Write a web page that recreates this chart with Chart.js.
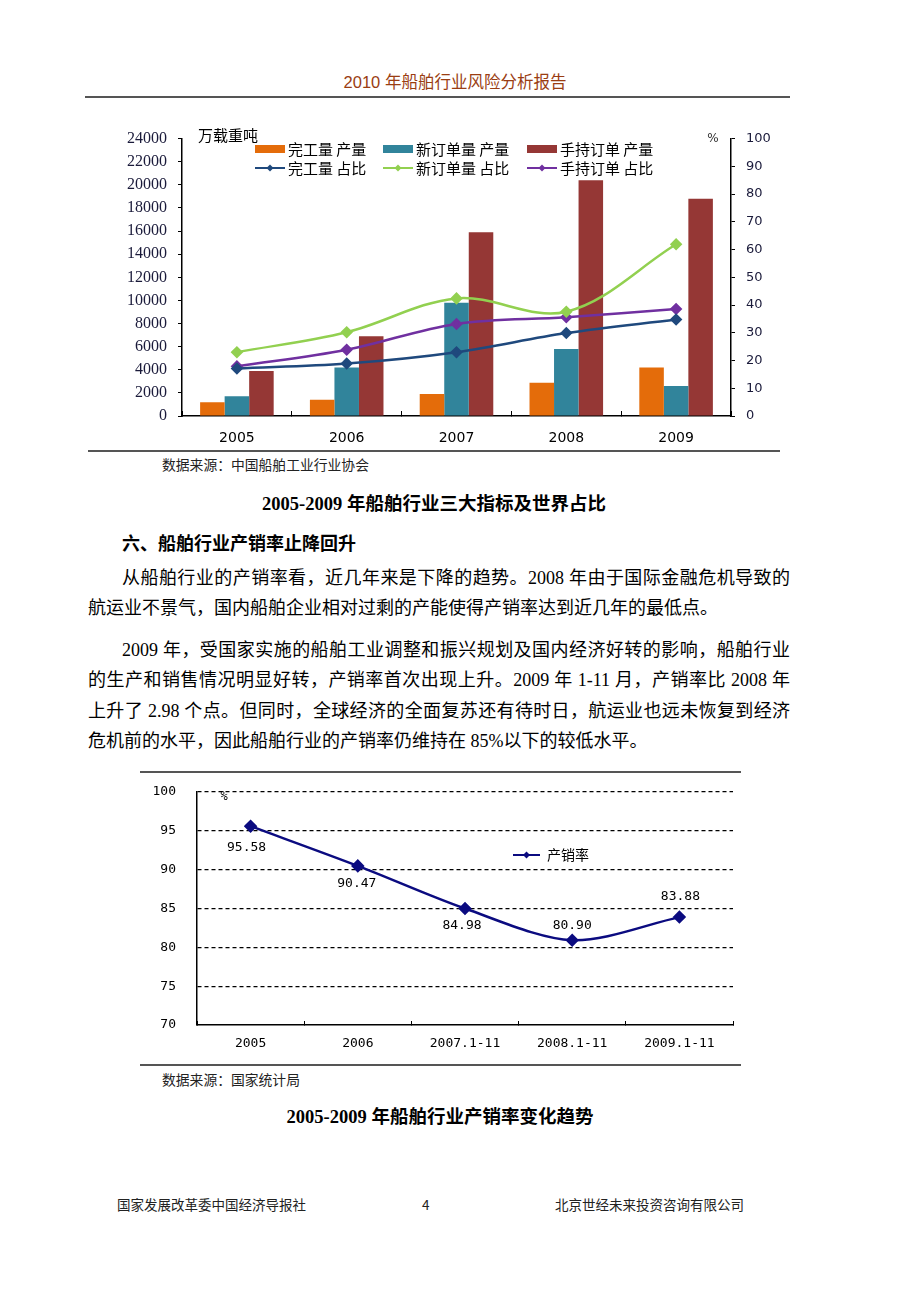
<!DOCTYPE html>
<html lang="zh-CN">
<head>
<meta charset="utf-8">
<title>2010年船舶行业风险分析报告</title>
<script src="https://cdn.jsdelivr.net/npm/chart.js@4.4.0/dist/chart.umd.min.js"></script>
<style>
  html, body { margin: 0; padding: 0; background: #fff; }
  body {
    width: 920px; height: 1302px; position: relative; overflow: hidden;
    font-family: "Liberation Serif", "Noto Sans CJK SC", serif; color: #000;
  }
  .abs { position: absolute; white-space: nowrap; }
  .rule { position: absolute; background: #555; }
  .header { left: 0; width: 910px; top: 70px; text-align: center;
            font-family: "Liberation Sans", "Noto Sans CJK SC", sans-serif;
            font-size: 16.5px; line-height: 24px; color: #9a3d12; }
  .src { font-family: "Noto Sans CJK SC", sans-serif; font-size: 13.8px; line-height: 20px; color: #222; }
  .caption { left: 0; width: 868px; text-align: center; font-weight: bold; font-size: 18.5px; line-height: 24px; }
  .line { font-size: 18px; line-height: 30px; height: 30px; }
  .just { text-align: justify; text-align-last: justify; }
  .foot { font-family: "Noto Sans CJK SC", sans-serif; font-size: 13.5px; line-height: 20px; color: #222; }
  .chartbox { position: absolute; }
</style>
</head>
<body>

<div class="abs header">2010 年船舶行业风险分析报告</div>
<div class="rule" style="left:85px; top:96px; width:705px; height:2px;"></div>

<div class="chartbox" style="left:88px; top:118px; width:712px; height:332px;">
  <canvas id="shipChart"></canvas>
</div>
<div class="rule" style="left:88px; top:450px; width:692px; height:1.5px;"></div>
<div class="abs src" style="left:162px; top:454px;">数据来源：中国船舶工业行业协会</div>
<div class="abs caption" style="top:492px;">2005-2009 年船舶行业三大指标及世界占比</div>

<div class="abs line" style="left:122px; top:529px; font-weight:bold;">六、船舶行业产销率止降回升</div>
<div class="abs line just" style="left:122px; top:563px; width:668px;">从船舶行业的产销率看，近几年来是下降的趋势。2008 年由于国际金融危机导致的</div>
<div class="abs line" style="left:88px; top:593px;">航运业不景气，国内船舶企业相对过剩的产能使得产销率达到近几年的最低点。</div>
<div class="abs line just" style="left:122px; top:635px; width:668px;">2009 年，受国家实施的船舶工业调整和振兴规划及国内经济好转的影响，船舶行业</div>
<div class="abs line just" style="left:88px; top:665px; width:702px;">的生产和销售情况明显好转，产销率首次出现上升。2009 年 1-11 月，产销率比 2008 年</div>
<div class="abs line just" style="left:88px; top:696px; width:702px;">上升了 2.98 个点。但同时，全球经济的全面复苏还有待时日，航运业也远未恢复到经济</div>
<div class="abs line" style="left:88px; top:726px;">危机前的水平，因此船舶行业的产销率仍维持在 85%以下的较低水平。</div>

<div class="rule" style="left:140px; top:771px; width:601px; height:1.5px;"></div>
<div class="chartbox" style="left:120px; top:763px; width:630px; height:302px;">
  <canvas id="ratioChart"></canvas>
</div>
<div class="rule" style="left:140px; top:1064px; width:601px; height:1.5px;"></div>
<div class="abs src" style="left:162px; top:1069px;">数据来源：国家统计局</div>
<div class="abs caption" style="top:1105px; width:880px;">2005-2009 年船舶行业产销率变化趋势</div>

<div class="abs foot" style="left:117px; top:1194px;">国家发展改革委中国经济导报社</div>
<div class="abs foot" style="left:422px; top:1194px;">4</div>
<div class="abs foot" style="left:555px; top:1194px;">北京世经未来投资咨询有限公司</div>

<script>
// 船舶行业三大指标（万载重吨）及世界占比（%）
const years = ['2005', '2006', '2007', '2008', '2009'];
const completedOutput = [1200, 1400, 1900, 2880, 4200];
const newOrderOutput = [1700, 4200, 9800, 5800, 2600];
const holdOrderOutput = [3900, 6900, 15900, 20400, 18800];
const completedShare = [17.1, 18.9, 23.0, 29.9, 34.8];
const newOrderShare = [23.0, 30.2, 42.4, 37.6, 61.9];
const holdOrderShare = [17.9, 23.9, 33.2, 35.6, 38.6];
const tonTicks = [0, 2000, 4000, 6000, 8000, 10000, 12000, 14000, 16000, 18000, 20000, 22000, 24000];
const shareTicks = [0, 10, 20, 30, 40, 50, 60, 70, 80, 90, 100];

// 产销率
const periods = ['2005', '2006', '2007.1-11', '2008.1-11', '2009.1-11'];
const salesRatio = [95.58, 90.47, 84.98, 80.90, 83.88];
const ratioTicks = [70, 75, 80, 85, 90, 95, 100];

Chart.defaults.animation = false;
Chart.defaults.devicePixelRatio = 1;

function drawDiamond(ctx, x, y, r, color) {
    ctx.fillStyle = color;
    ctx.beginPath();
    ctx.moveTo(x, y - r);
    ctx.lineTo(x + r, y);
    ctx.lineTo(x, y + r);
    ctx.lineTo(x - r, y);
    ctx.closePath();
    ctx.fill();
}

// 图例画在绘图区内部
const innerLegend = {
    id: 'innerLegend',
    afterDraw(chart, args, opts) {
        const ctx = chart.ctx;
        ctx.save();
        ctx.font = opts.font;
        ctx.textBaseline = 'middle';
        ctx.textAlign = 'left';
        chart.data.datasets.forEach((ds, i) => {
            const x = opts.cols[i % opts.cols.length];
            const y = opts.rows[Math.floor(i / opts.cols.length)];
            const w = opts.swatch;
            if (ds.type === 'line') {
                ctx.strokeStyle = ds.borderColor;
                ctx.lineWidth = 2;
                ctx.beginPath();
                ctx.moveTo(x, y);
                ctx.lineTo(x + w, y);
                ctx.stroke();
                drawDiamond(ctx, x + w / 2, y, 3.5, ds.borderColor);
            } else {
                ctx.fillStyle = ds.backgroundColor;
                ctx.fillRect(x, y - 4, w, 8);
            }
            ctx.fillStyle = '#000';
            ctx.fillText(ds.label, x + w + opts.gap, y);
        });
        (opts.notes || []).forEach(n => {
            ctx.font = n.font;
            ctx.fillStyle = n.color || '#000';
            ctx.textAlign = n.align || 'left';
            ctx.fillText(n.text, n.x, n.y);
        });
        ctx.restore();
    }
};

// 数据标签
const pointLabels = {
    id: 'pointLabels',
    afterDatasetsDraw(chart, args, opts) {
        if (!opts.show) return;
        const ctx = chart.ctx;
        const meta = chart.getDatasetMeta(0);
        const data = chart.data.datasets[0].data;
        ctx.save();
        ctx.font = opts.font;
        ctx.fillStyle = '#000';
        ctx.textAlign = 'center';
        ctx.textBaseline = 'middle';
        meta.data.forEach((pt, i) => {
            const off = opts.offsets[i];
            ctx.fillText(data[i].toFixed(2), pt.x + off[0], pt.y + off[1]);
        });
        ctx.restore();
    }
};

const sansAxis = { family: 'DejaVu Sans', size: 13 };

new Chart(document.getElementById('shipChart'), {
    type: 'bar',
    data: {
        labels: years,
        datasets: [
            { label: '完工量 产量', data: completedOutput, backgroundColor: '#E46C0A', yAxisID: 'y', order: 2 },
            { label: '新订单量 产量', data: newOrderOutput, backgroundColor: '#31849B', yAxisID: 'y', order: 2 },
            { label: '手持订单 产量', data: holdOrderOutput, backgroundColor: '#953735', yAxisID: 'y', order: 2 },
            { type: 'line', label: '完工量 占比', data: completedShare, borderColor: '#1F497D', backgroundColor: '#1F497D', yAxisID: 'y1', order: 1 },
            { type: 'line', label: '新订单量 占比', data: newOrderShare, borderColor: '#92D050', backgroundColor: '#92D050', yAxisID: 'y1', order: 1 },
            { type: 'line', label: '手持订单 占比', data: holdOrderShare, borderColor: '#7030A0', backgroundColor: '#7030A0', yAxisID: 'y1', order: 1 }
        ]
    },
    options: {
        responsive: true,
        maintainAspectRatio: false,
        layout: { padding: { top: 19, left: 0, right: 0, bottom: 0 } },
        datasets: {
            bar: { categoryPercentage: 0.67, barPercentage: 1.0 },
            line: { borderWidth: 2.5, tension: 0.35, pointStyle: 'rectRot', pointRadius: 4.5, pointHoverRadius: 4.5 }
        },
        plugins: {
            legend: { display: false },
            tooltip: { enabled: false },
            innerLegend: {
                font: '15px "Noto Sans CJK SC"',
                cols: [167, 295, 439],
                rows: [31, 50],
                swatch: 30,
                gap: 3,
                notes: [
                    { text: '万载重吨', x: 110, y: 17, font: '15px "Noto Sans CJK SC"' },
                    { text: '%', x: 625, y: 21, font: '12px "DejaVu Sans"', color: '#333', align: 'center' }
                ]
            }
        },
        scales: {
            x: {
                grid: { display: true, offset: true, drawOnChartArea: false, drawTicks: true, tickLength: -5, color: '#000' },
                border: { color: '#000', width: 1.5 },
                ticks: { font: { family: 'DejaVu Sans', size: 14 }, color: '#000', padding: 19 },
                afterFit: s => { s.height = 34; }
            },
            y: {
                position: 'left',
                min: tonTicks[0],
                max: tonTicks[tonTicks.length - 1],
                grid: { display: true, drawOnChartArea: false, drawTicks: true, tickLength: 4, color: '#000' },
                border: { color: '#000', width: 1.5 },
                ticks: {
                    stepSize: tonTicks[1] - tonTicks[0],
                    font: { family: 'Liberation Serif', size: 16 },
                    color: '#1a1a3a',
                    padding: 11,
                    callback: v => String(v)
                },
                afterFit: s => { s.width = 94; }
            },
            y1: {
                position: 'right',
                min: shareTicks[0],
                max: shareTicks[shareTicks.length - 1],
                grid: { display: true, drawOnChartArea: false, drawTicks: true, tickLength: 4, color: '#000' },
                border: { color: '#000', width: 1.5 },
                ticks: { stepSize: shareTicks[1] - shareTicks[0], font: sansAxis, color: '#1a1a3a', padding: 11 },
                afterFit: s => { s.width = 69; }
            }
        }
    },
    plugins: [innerLegend]
});

new Chart(document.getElementById('ratioChart'), {
    type: 'line',
    data: {
        labels: periods,
        datasets: [{
            type: 'line',
            label: '产销率',
            data: salesRatio,
            borderColor: '#0B0B80',
            backgroundColor: '#0B0B80',
            borderWidth: 2.5,
            tension: 0.3,
            pointStyle: 'rectRot',
            pointRadius: 5,
            pointHoverRadius: 5
        }]
    },
    options: {
        responsive: true,
        maintainAspectRatio: false,
        layout: { padding: { top: 11, left: 0, right: 17, bottom: 0 } },
        plugins: {
            legend: { display: false },
            tooltip: { enabled: false },
            innerLegend: {
                font: '14px "Noto Sans CJK SC"',
                cols: [393],
                rows: [92],
                swatch: 27,
                gap: 7,
                notes: [
                    { text: '%', x: 104, y: 34, font: '12px "DejaVu Sans Mono"', align: 'center' }
                ]
            },
            pointLabels: {
                show: true,
                font: '13px "DejaVu Sans Mono"',
                offsets: [[-4, 21], [-1, 18], [-3, 17], [0, -15], [1, -20]]
            }
        },
        scales: {
            x: {
                offset: true,
                grid: { display: true, offset: true, drawOnChartArea: false, drawTicks: true, tickLength: -4, color: '#000' },
                border: { color: '#000', width: 1.5 },
                ticks: { font: { family: 'DejaVu Sans Mono', size: 13 }, color: '#000', padding: 15 },
                afterFit: s => { s.height = 40; }
            },
            y: {
                min: ratioTicks[0],
                max: ratioTicks[ratioTicks.length - 1],
                grid: {
                    display: true,
                    drawTicks: false,
                    lineWidth: 1.2,
                    color: c => (c.tick && c.tick.value === ratioTicks[0]) ? 'rgba(0,0,0,0)' : '#000'
                },
                border: { color: '#000', width: 1.5, dash: [4, 3] },
                ticks: { stepSize: ratioTicks[1] - ratioTicks[0], font: { family: 'DejaVu Sans Mono', size: 13 }, color: '#000', padding: 21 },
                afterFit: s => { s.width = 77; }
            }
        }
    },
    plugins: [innerLegend, pointLabels]
});
</script>
</body>
</html>
